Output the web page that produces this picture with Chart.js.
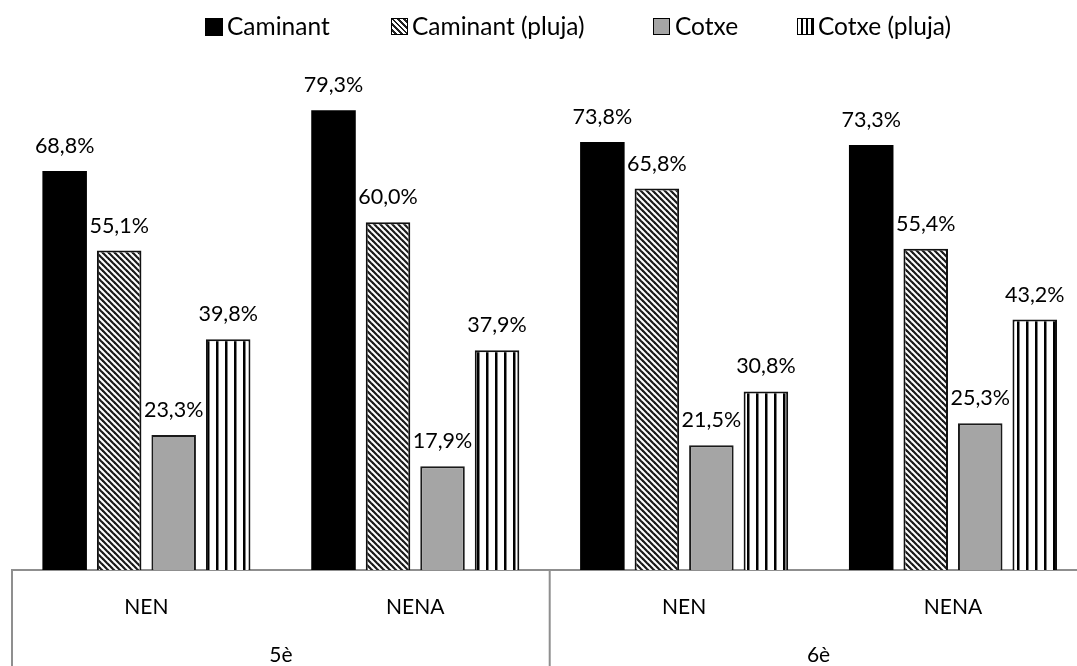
<!DOCTYPE html>
<html>
<head>
<meta charset="utf-8">
<script src="https://cdn.jsdelivr.net/npm/chart.js@4.4.1/dist/chart.umd.min.js"></script>
<style>
  html, body { margin: 0; padding: 0; background: #fff; overflow: hidden; }
  #wrap { position: absolute; left: 0; top: 0; width: 1100px; height: 666px; }
  .lg { position: absolute; top: 10px; height: 32px; font-family: Lato, sans-serif; font-size: 24.5px; color: #000; line-height: 32px; white-space: nowrap; }
  .sw { position: absolute; top: 18px; width: 17px; height: 17px; box-sizing: border-box; }
</style>
</head>
<body>
<div id="wrap"><canvas id="c"></canvas></div>
<div class="sw" style="left:205px;background:#000;width:18px;height:18px;"></div>
<div class="lg" style="left:227px;">Caminant</div>
<div class="sw" style="left:391px;border:1.5px solid #000;background:repeating-linear-gradient(45deg,#fff 0 2px,#222 2px 4px);"></div>
<div class="lg" style="left:412px;">Caminant (pluja)</div>
<div class="sw" style="left:653px;border:1.5px solid #000;background:#a5a5a5;"></div>
<div class="lg" style="left:675px;">Cotxe</div>
<div class="sw" style="left:797px;border:1.5px solid #000;background:repeating-linear-gradient(90deg,#fff 0 3px,#000 3px 5px);"></div>
<div class="lg" style="left:818px;">Cotxe (pluja)</div>
<script>
const categories = ['NEN', 'NENA', 'NEN', 'NENA'];
const groups = ['5è', '6è'];
const seriesNames = ['Caminant', 'Caminant (pluja)', 'Cotxe', 'Cotxe (pluja)'];
const caminant = [68.8, 79.3, 73.8, 73.3];
const caminantPluja = [55.1, 60.0, 65.8, 55.4];
const cotxe = [23.3, 17.9, 21.5, 25.3];
const cotxePluja = [39.8, 37.9, 30.8, 43.2];

function makeDiag() {
  const c = document.createElement('canvas'); c.width = 6; c.height = 6;
  const g = c.getContext('2d');
  g.fillStyle = '#fff'; g.fillRect(0, 0, 6, 6);
  g.strokeStyle = '#1a1a1a'; g.lineWidth = 2.2;
  for (let k = -1; k <= 1; k++) {
    g.beginPath(); g.moveTo(k * 6 - 1, -1); g.lineTo(k * 6 + 7, 7); g.stroke();
  }
  return g.createPattern(c, 'repeat');
}
function makeVert() {
  const c = document.createElement('canvas'); c.width = 9; c.height = 9;
  const g = c.getContext('2d');
  g.fillStyle = '#fff'; g.fillRect(0, 0, 9, 9);
  g.fillStyle = '#000'; g.fillRect(0, 0, 2.5, 9);
  return g.createPattern(c, 'repeat');
}
const ctx0 = document.getElementById('c').getContext('2d');
const diag = makeDiag();
const vert = makeVert();

const labelPlugin = {
  id: 'vals',
  afterDatasetsDraw(chart) {
    const ctx = chart.ctx;
    ctx.save();
    ctx.font = '21.5px Lato';
    ctx.fillStyle = '#000';
    ctx.textAlign = 'center';
    ctx.textBaseline = 'alphabetic';
    chart.data.datasets.forEach((ds, i) => {
      const meta = chart.getDatasetMeta(i);
      meta.data.forEach((el, j) => {
        const v = ds.data[j];
        ctx.fillText(v.toFixed(1).replace('.', ',') + '%', el.x, el.y - 18);
      });
    });
    ctx.restore();
  }
};
const sepPlugin = {
  id: 'sep',
  afterDraw(chart) {
    const x = chart.scales.x;
    const ctx = chart.ctx;
    const b = chart.chartArea.bottom;
    ctx.save();
    ctx.strokeStyle = '#8f8f8f';
    ctx.lineWidth = 2;
    [x.left, (x.left + x.right) / 2, x.right].forEach(px => {
      ctx.beginPath(); ctx.moveTo(px, b); ctx.lineTo(px, chart.height); ctx.stroke();
    });
    ctx.restore();
  }
};

Chart.defaults.font.family = 'Lato';
new Chart(ctx0, {
  type: 'bar',
  data: {
    labels: categories,
    datasets: [
      { label: seriesNames[0], data: caminant, backgroundColor: '#000', borderWidth: 0 },
      { label: seriesNames[1], data: caminantPluja, backgroundColor: diag, borderColor: '#111', borderWidth: 2 },
      { label: seriesNames[2], data: cotxe, backgroundColor: '#a5a5a5', borderColor: '#1a1a1a', borderWidth: 2 },
      { label: seriesNames[3], data: cotxePluja, backgroundColor: vert, borderColor: '#111', borderWidth: 2 }
    ]
  },
  options: {
    responsive: true,
    maintainAspectRatio: false,
    animation: false,
    datasets: { bar: { categoryPercentage: 0.811, barPercentage: 0.817 } },
    layout: { padding: { top: 48.2, left: 12, right: 12.6, bottom: 0 } },
    plugins: { legend: { display: false }, tooltip: { enabled: false } },
    scales: {
      y: { display: false, min: 0, max: 90 },
      x: {
        position: 'bottom',
        grid: { display: false, drawTicks: false },
        border: { display: true, color: '#8f8f8f', width: 2 },
        ticks: { color: '#000', font: { size: 21, family: 'Lato' }, padding: 24.7, maxRotation: 0 }
      },
      x2: {
        type: 'category',
        position: 'bottom',
        labels: groups,
        grid: { display: false, drawTicks: false },
        border: { display: false },
        ticks: { color: '#000', font: { size: 21, family: 'Lato' }, padding: -1.9, maxRotation: 0 }
      }
    }
  },
  plugins: [labelPlugin, sepPlugin]
});
</script>
</body>
</html>
